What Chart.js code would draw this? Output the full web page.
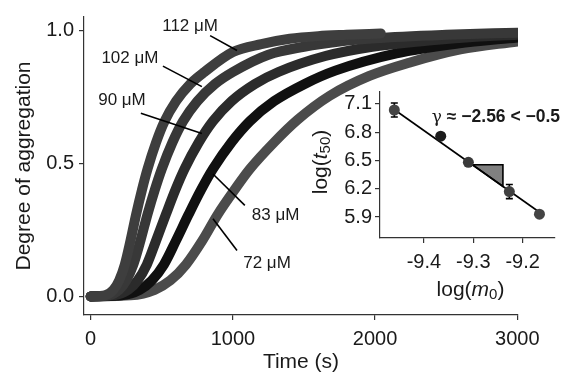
<!DOCTYPE html>
<html>
<head>
<meta charset="utf-8">
<script src="https://cdn.jsdelivr.net/npm/chart.js@4.4.0/dist/chart.umd.min.js"></script>
<style>
html, body { margin: 0; padding: 0; background: #fff; }
#wrap { position: relative; width: 571px; height: 376px; }
#wrap canvas { position: absolute; left: 0; top: 0; }
</style>
</head>
<body>
<div id="wrap">
  <canvas id="mainChart" width="571" height="376"></canvas>
  <canvas id="insetChart" width="571" height="376"></canvas>
</div>
<script>
// aggregation curves (time in s, degree of aggregation)
const time112 = [0, 100, 160, 200, 240, 280, 320, 360, 400, 460, 520, 600, 700, 800, 1000, 1200, 1400, 1600, 1800, 2040];
const agg112  = [0, 0.004, 0.025, 0.06, 0.12, 0.21, 0.31, 0.40, 0.48, 0.58, 0.66, 0.735, 0.80, 0.845, 0.92, 0.95, 0.97, 0.98, 0.985, 0.99];
const time102 = [0, 125, 200, 250, 300, 350, 400, 450, 500, 575, 650, 750, 875, 1000, 1250, 1500, 1750, 2000, 2500, 3000];
const agg102  = [0, 0.004, 0.025, 0.06, 0.12, 0.21, 0.31, 0.40, 0.48, 0.58, 0.66, 0.735, 0.80, 0.845, 0.91, 0.94, 0.96, 0.972, 0.985, 0.993];
const time90  = [0, 165, 265, 330, 395, 460, 530, 595, 660, 760, 860, 990, 1155, 1320, 1650, 1980, 2310, 2640, 3000];
const agg90   = [0, 0.004, 0.025, 0.06, 0.12, 0.21, 0.31, 0.40, 0.48, 0.58, 0.66, 0.735, 0.80, 0.845, 0.905, 0.94, 0.96, 0.975, 0.985];
const time83  = [0, 215, 345, 430, 515, 600, 690, 775, 860, 990, 1120, 1290, 1505, 1720, 2150, 2580, 3000];
const agg83   = [0, 0.004, 0.025, 0.06, 0.12, 0.21, 0.31, 0.40, 0.48, 0.58, 0.66, 0.735, 0.80, 0.85, 0.915, 0.952, 0.975];
const time72  = [0, 280, 450, 560, 670, 785, 895, 1010, 1120, 1290, 1455, 1680, 1960, 2240, 2600, 3000];
const agg72   = [0, 0.004, 0.025, 0.06, 0.12, 0.21, 0.31, 0.40, 0.48, 0.58, 0.665, 0.755, 0.83, 0.88, 0.93, 0.96];

const curveNames  = ['112 μM', '102 μM', '90 μM', '83 μM', '72 μM'];
const curveColors = ['#3e3e3e', '#383838', '#2b2b2b', '#101010', '#4b4b4b'];

// label anchors and leader lines, in data units
const labelT  = [699, 276, 220, 1300, 1240];
const labelV  = [1.018, 0.897, 0.738, 0.306, 0.125];
const leadT1  = [840, 508, 353, 860, 860];
const leadV1  = [0.982, 0.867, 0.690, 0.461, 0.292];
const leadT2  = [1029, 782, 782, 1084, 1029];
const leadV2  = [0.926, 0.790, 0.613, 0.343, 0.173];

const timeTicks = [0, 1000, 2000, 3000];
const aggTicks  = [0, 0.5, 1.0];

// inset: log(m0) vs log(t50)
const logM0    = [-9.460, -9.366, -9.310, -9.227, -9.166];
const logT50   = [7.036, 6.758, 6.480, 6.170, 5.930];
const t50Err   = [0.075, 0.02, 0.02, 0.075, 0.02];
const dotColors = ['#444444', '#1c1c1c', '#3a3a3a', '#404040', '#444444'];
const fitM0    = [-9.461, -9.163];
const fitT50   = [7.044, 5.940];
const triM0    = [-9.302, -9.240, -9.240, -9.302];
const triT50   = [6.455, 6.455, 6.225, 6.455];
const m0Ticks  = [-9.4, -9.3, -9.2];
const t50Ticks = [5.9, 6.2, 6.5, 6.8, 7.1];

const FONT = "'Liberation Sans', Arial, sans-serif";
const INK = '#1a1a1a';

function pts(xs, ys) { return xs.map((x, i) => ({ x: x, y: ys[i] })); }

const curveLabelsPlugin = {
    id: 'curveLabels',
    afterDatasetsDraw(chart) {
        const ctx = chart.ctx, x = chart.scales.x, y = chart.scales.y;
        ctx.save();
        ctx.strokeStyle = '#000';
        ctx.lineWidth = 1.6;
        for (let i = 0; i < curveNames.length; i++) {
            ctx.beginPath();
            ctx.moveTo(x.getPixelForValue(leadT1[i]), y.getPixelForValue(leadV1[i]));
            ctx.lineTo(x.getPixelForValue(leadT2[i]), y.getPixelForValue(leadV2[i]));
            ctx.stroke();
        }
        ctx.fillStyle = INK;
        ctx.font = '17px ' + FONT;
        ctx.textAlign = 'center';
        ctx.textBaseline = 'middle';
        for (let i = 0; i < curveNames.length; i++) {
            ctx.fillText(curveNames[i], x.getPixelForValue(labelT[i]), y.getPixelForValue(labelV[i]));
        }
        ctx.restore();
    }
};

new Chart(document.getElementById('mainChart'), {
    type: 'line',
    data: {
        datasets: [
            { label: curveNames[0], data: pts(time112, agg112), borderColor: curveColors[0], order: 1 },
            { label: curveNames[1], data: pts(time102, agg102), borderColor: curveColors[1], order: 2 },
            { label: curveNames[2], data: pts(time90, agg90), borderColor: curveColors[2], order: 3 },
            { label: curveNames[3], data: pts(time83, agg83), borderColor: curveColors[3], order: 4 },
            { label: curveNames[4], data: pts(time72, agg72), borderColor: curveColors[4], order: 5 }
        ].map(d => Object.assign(d, {
            borderWidth: 10, borderCapStyle: 'round', borderJoinStyle: 'round',
            pointRadius: 0, cubicInterpolationMode: 'monotone', fill: false
        }))
    },
    options: {
        responsive: false, animation: false, devicePixelRatio: 1,
        layout: { padding: { left: 0, top: 10, right: 53, bottom: 0 } },
        plugins: { legend: { display: false }, tooltip: { enabled: false } },
        scales: {
            x: {
                type: 'linear', min: -47, max: 3005,
                afterFit: s => { s.height = 61; },
                afterBuildTicks: s => { s.ticks = timeTicks.map(v => ({ value: v })); },
                grid: { drawOnChartArea: false, tickLength: 5, color: '#333', lineWidth: 1.2 },
                border: { color: '#333', width: 1.2 },
                ticks: { color: INK, font: { family: FONT, size: 20 }, padding: 7, maxRotation: 0, callback: v => String(v) },
                title: { display: true, text: 'Time (s)', color: INK, font: { family: FONT, size: 21 }, padding: { top: 0, bottom: 1 } }
            },
            y: {
                min: -0.07, max: 1.052,
                afterFit: s => { s.width = 84; },
                afterBuildTicks: s => { s.ticks = aggTicks.map(v => ({ value: v })); },
                grid: { drawOnChartArea: false, tickLength: 5, color: '#333', lineWidth: 1.2 },
                border: { color: '#333', width: 1.2 },
                ticks: { color: INK, font: { family: FONT, size: 20 }, padding: 5, callback: v => v.toFixed(1) },
                title: { display: true, text: 'Degree of aggregation', color: INK, font: { family: FONT, size: 21 }, padding: { top: 12, bottom: 0 } }
            }
        }
    },
    plugins: [curveLabelsPlugin]
});

// draws a run of text pieces with mixed styles, centred on cx
function drawRich(ctx, parts, cx, cy) {
    let total = 0;
    parts.forEach(p => { ctx.font = p.font; p.w = ctx.measureText(p.text).width; total += p.w; });
    let x = cx - total / 2;
    parts.forEach(p => {
        ctx.font = p.font;
        ctx.fillText(p.text, x, cy + (p.dy || 0));
        x += p.w;
    });
}

const insetExtrasPlugin = {
    id: 'insetExtras',
    beforeDatasetsDraw(chart) {
        const ctx = chart.ctx, x = chart.scales.x, y = chart.scales.y;
        ctx.save();
        ctx.strokeStyle = '#000';
        ctx.lineWidth = 1.6;
        for (let i = 0; i < logM0.length; i++) {
            const px = x.getPixelForValue(logM0[i]);
            const top = y.getPixelForValue(logT50[i] + t50Err[i]);
            const bot = y.getPixelForValue(logT50[i] - t50Err[i]);
            ctx.beginPath();
            ctx.moveTo(px, top); ctx.lineTo(px, bot);
            ctx.moveTo(px - 3.5, top); ctx.lineTo(px + 3.5, top);
            ctx.moveTo(px - 3.5, bot); ctx.lineTo(px + 3.5, bot);
            ctx.stroke();
        }
        ctx.restore();
    },
    afterDraw(chart) {
        const ctx = chart.ctx, x = chart.scales.x, y = chart.scales.y, a = chart.chartArea;
        ctx.save();
        ctx.fillStyle = INK;
        ctx.textAlign = 'left';
        ctx.textBaseline = 'middle';
        // slope annotation
        const gx = x.getPixelForValue(-9.384), gy = y.getPixelForValue(6.957);
        ctx.font = '17px "DejaVu Serif", serif';
        ctx.fillText('γ', gx, gy);
        const gw = ctx.measureText('γ').width;
        ctx.font = 'bold 17.5px ' + FONT;
        ctx.fillText(' ≈ −2.56 < −0.5', gx + gw, gy);
        // axis titles with italic symbols and subscripts
        const reg = '21px ' + FONT, ita = 'italic 21px ' + FONT, sub = '15px ' + FONT;
        drawRich(ctx, [
            { text: 'log(', font: reg }, { text: 'm', font: ita },
            { text: '0', font: sub, dy: 5 }, { text: ')', font: reg }
        ], (a.left + a.right) / 2 + 3, a.bottom + 52);
        ctx.translate(a.left - 59, (a.top + a.bottom) / 2 - 3);
        ctx.rotate(-Math.PI / 2);
        drawRich(ctx, [
            { text: 'log(', font: reg }, { text: 't', font: ita },
            { text: '50', font: sub, dy: 5 }, { text: ')', font: reg }
        ], 0, 0);
        ctx.restore();
    }
};

new Chart(document.getElementById('insetChart'), {
    type: 'scatter',
    data: {
        datasets: [
            {
                label: 'points', data: pts(logM0, logT50), order: 1,
                pointRadius: 5.5, pointBackgroundColor: dotColors, pointBorderWidth: 0
            },
            {
                label: 'fit', data: pts(fitM0, fitT50), order: 2, showLine: true,
                borderColor: '#000', borderWidth: 1.6, pointRadius: 0
            },
            {
                label: 'slope', data: pts(triM0, triT50), order: 3, showLine: true,
                borderColor: '#000', borderWidth: 1.6, pointRadius: 0,
                backgroundColor: '#808080', fill: 'shape'
            }
        ]
    },
    options: {
        responsive: false, animation: false, devicePixelRatio: 1,
        layout: { padding: { left: 300, top: 92, right: 16, bottom: 70 } },
        plugins: { legend: { display: false }, tooltip: { enabled: false } },
        scales: {
            x: {
                type: 'linear', min: -9.489, max: -9.1345,
                afterFit: s => { s.height = 68; },
                afterBuildTicks: s => { s.ticks = m0Ticks.map(v => ({ value: v })); },
                grid: { drawOnChartArea: false, tickLength: 5, color: '#333', lineWidth: 1.2 },
                border: { color: '#333', width: 1.2 },
                ticks: { color: INK, font: { family: FONT, size: 20 }, padding: 7, maxRotation: 0, callback: v => v.toFixed(1) }
            },
            y: {
                min: 5.677, max: 7.227,
                afterFit: s => { s.width = 80; },
                afterBuildTicks: s => { s.ticks = t50Ticks.map(v => ({ value: v })); },
                grid: { drawOnChartArea: false, tickLength: 5, color: '#333', lineWidth: 1.2 },
                border: { color: '#333', width: 1.2 },
                ticks: { color: INK, font: { family: FONT, size: 20 }, padding: 3, callback: v => v.toFixed(1) }
            }
        }
    },
    plugins: [insetExtrasPlugin]
});
</script>
</body>
</html>
